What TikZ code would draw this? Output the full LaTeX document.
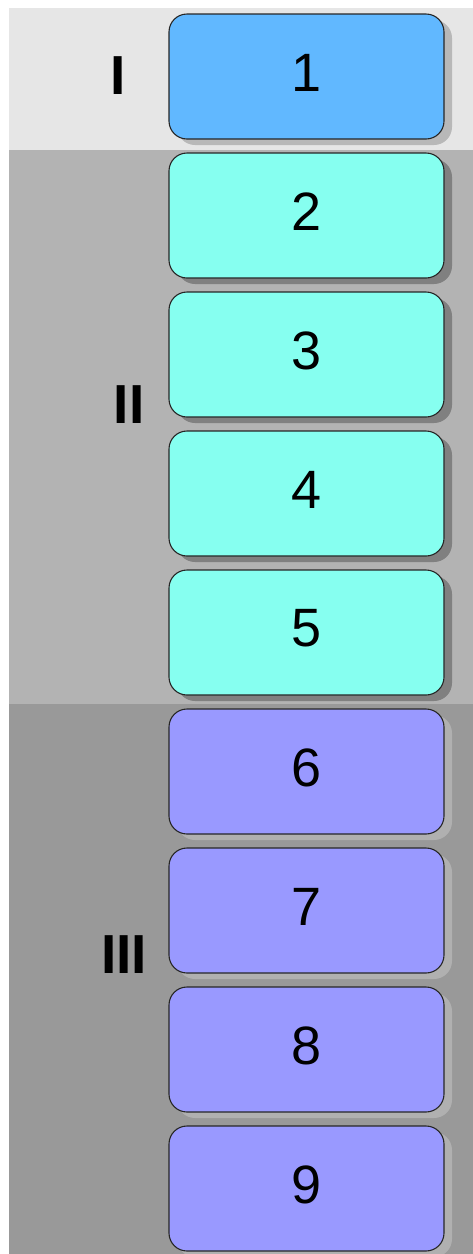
\documentclass[tikz,border=0pt]{standalone}
\usepackage{fontspec}
\setmainfont{Liberation Sans}
\usetikzlibrary{shadows}
\definecolor{bandA}{RGB}{230,230,230}
\definecolor{bandB}{RGB}{179,179,179}
\definecolor{bandC}{RGB}{153,153,153}
\definecolor{cellA}{RGB}{97,184,255}
\definecolor{cellB}{RGB}{134,255,240}
\definecolor{cellC}{RGB}{153,153,255}
\definecolor{shadeA}{RGB}{184,184,184}
\definecolor{shadeB}{RGB}{128,128,128}
\definecolor{shadeC}{RGB}{176,176,176}
\tikzset{
  cell/.style={draw=black!85, line width=1.1pt, rounded corners=18pt,
    minimum width=275pt, minimum height=125pt, inner sep=0pt},
  shd/.style={drop shadow={shadow xshift=8pt, shadow yshift=-6pt, fill=#1, opacity=1}},
  cellI/.style={cell, fill=cellA, shd=shadeA},
  cellII/.style={cell, fill=cellB, shd=shadeB},
  cellIII/.style={cell, fill=cellC, shd=shadeC},
  celltext/.style={yshift=4pt, font=\fontsize{54}{58}\selectfont},
  rowlabel/.style={font=\fontsize{55}{60}\selectfont\bfseries}
}

\begin{document}
\begin{tikzpicture}[x=1pt,y=-1pt]
	\useasboundingbox (0,0) rectangle (473,1254);
	\fill[white] (0,0) rectangle (473,1254);
	
	% bands
	\fill[bandA] (9,8) rectangle (473,150);
	\fill[bandB] (9,150) rectangle (473,704);
	\fill[bandC] (9,704) rectangle (473,1254);
	
	\node[rowlabel] (lblI) at (118,76) {I};
	\node[rowlabel] (lblII) at (129,405) {II};
	\node[rowlabel] (lblIII) at (124,955) {III};
	
	% cells
	\node[cellI] (c1) at (306.5,76.5) {};
	\node[cellII] (c2) at (306.5,215.5) {};
	\node[cellII] (c3) at (306.5,354.5) {};
	\node[cellII] (c4) at (306.5,493.5) {};
	\node[cellII] (c5) at (306.5,632.5) {};
	\node[cellIII] (c6) at (306.5,771.5) {};
	\node[cellIII] (c7) at (306.5,910.5) {};
	\node[cellIII] (c8) at (306.5,1049.5) {};
	\node[cellIII] (c9) at (306.5,1188.5) {};
	
	\node[celltext] (t1) at (c1) {1};
	\node[celltext] (t2) at (c2) {2};
	\node[celltext] (t3) at (c3) {3};
	\node[celltext] (t4) at (c4) {4};
	\node[celltext] (t5) at (c5) {5};
	\node[celltext] (t6) at (c6) {6};
	\node[celltext] (t7) at (c7) {7};
	\node[celltext] (t8) at (c8) {8};
	\node[celltext] (t9) at (c9) {9};
\end{tikzpicture}
\end{document}
